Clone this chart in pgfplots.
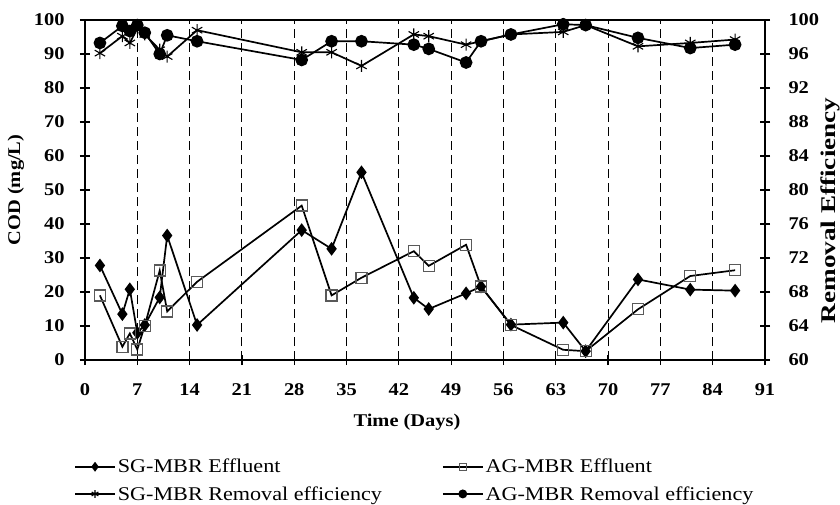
\documentclass[border=0pt]{standalone}
\usepackage{pgfplots}
\pgfplotsset{compat=1.18}
\usepackage{pgfplotstable}
\usepackage{fontspec}
\setmainfont{Liberation Serif}[FakeStretch=1.14]
\newfontfamily\widefont{Liberation Serif}[FakeStretch=1.3]

% day, SG effluent, AG effluent (mg/L), SG removal, AG removal (%)
\pgfplotstableread{
day sgeff ageff sgrem agrem
2  27.8 19.0 96.1 97.3
5  13.5  3.9 98.1 99.3
6  20.8  7.8 97.3 98.7
7   8.0  3.1 99.0 99.4
8  10.3 10.1 98.3 98.5
10 18.4 26.3 96.5 96.0
11 36.6 14.3 95.7 98.2
15 10.3 23.0 98.8 97.5
29 38.2 45.4 96.2 95.3
33 32.7 19.0 96.2 97.5
37 55.2 24.2 94.6 97.5
44 18.3 32.0 98.3 97.1
46 15.0 27.7 98.1 96.6
51 19.6 33.9 97.1 95.0
53 21.6 21.6 97.5 97.5
57 10.4 10.3 98.3 98.3
64 11.0  3.0 98.6 99.5
67  2.6  2.6 99.4 99.4
74 23.7 14.9 96.9 97.9
81 20.7 24.7 97.3 96.7
87 20.4 26.4 97.7 97.1
}\cod

\tikzset{
  sgeff/.style={black, line width=1.7bp, mark=diamond*, mark size=5.5bp, mark options={solid, fill=black}},
  ageff/.style={black, line width=1.7bp, mark=square, mark size=5.5bp, mark options={solid, draw=black!65, line width=1.3bp}},
  sgrem/.style={black, line width=1.7bp, mark=asterisk, mark size=6bp, mark options={solid, line width=1.1bp}},
  agrem/.style={black, line width=1.7bp, mark=*, mark size=5.5bp, mark options={solid, fill=black}},
}
\pgfplotsset{
  common/.style={
    at={(0,0)}, anchor=south west, scale only axis,
    width=680bp, height=340bp, xmin=0, xmax=91,
    axis line style={line width=1.6bp},
    tick align=center, major tick length=10bp,
    tick style={black, line width=1.2bp},
    tick label style={font=\fontsize{18}{20}\selectfont\bfseries},
    label style={font=\fontsize{18}{20}\selectfont\bfseries},
    /pgf/number format/assume math mode=true,
  },
}

\begin{document}
\begin{tikzpicture}
\begin{axis}[common,
  ymin=0, ymax=100,
  xtick={0,7,...,91}, ytick={0,10,...,100},
  xtick pos=bottom, ytick pos=left,
  x tick label style={yshift=-15bp},
  y tick label style={xshift=-12bp},
  xmajorgrids, grid style={black, line width=1.1bp, dash pattern=on 9bp off 5bp},
  xlabel={Time (Days)}, ylabel={COD (mg/L)},
  xlabel style={at={(axis description cs:0.5,0)}, anchor=center, xshift=-18bp, yshift=-62bp},
  ylabel style={at={(axis description cs:-0.1015,0.5)}, anchor=center},
  legend columns=2,
  legend style={at={(0,0)}, anchor=north west, xshift=-14bp, yshift=-95bp,
    draw=none, fill=none, font=\fontsize{19.5}{22}\selectfont,
    row sep=8bp, /tikz/every even column/.append style={column sep=58bp}},
  legend cell align=left,
  legend image code/.code={\draw[mark repeat=2, mark phase=2, #1, /tikz/every mark/.append style={scale=0.65}]
    plot coordinates {(0bp,0bp) (20bp,0bp) (40bp,0bp)};},
]
\addplot[sgeff] table[x=day, y=sgeff] {\cod};
\addlegendentry{SG-MBR Effluent}
\addplot[ageff] table[x=day, y=ageff] {\cod};
\addlegendentry{AG-MBR Effluent}
\addlegendimage{sgrem}
\addlegendentry{SG-MBR Removal efficiency}
\addlegendimage{agrem}
\addlegendentry{AG-MBR Removal efficiency}
\end{axis}

\begin{axis}[common,
  ymin=60, ymax=100, ytick={60,64,...,100},
  axis y line*=right, hide x axis,
  y tick label style={xshift=15bp},
  ylabel={Removal Efficiency},
  ylabel style={at={(axis description cs:1.0956,0.44)}, anchor=center,
    font=\widefont\fontsize{21}{23}\selectfont\bfseries},
]
\addplot[sgrem] table[x=day, y=sgrem] {\cod};
\addplot[agrem] table[x=day, y=agrem] {\cod};
\end{axis}
\pgfresetboundingbox
\path (-85bp,-145bp) rectangle (755bp,360bp);
\end{tikzpicture}
\end{document}
